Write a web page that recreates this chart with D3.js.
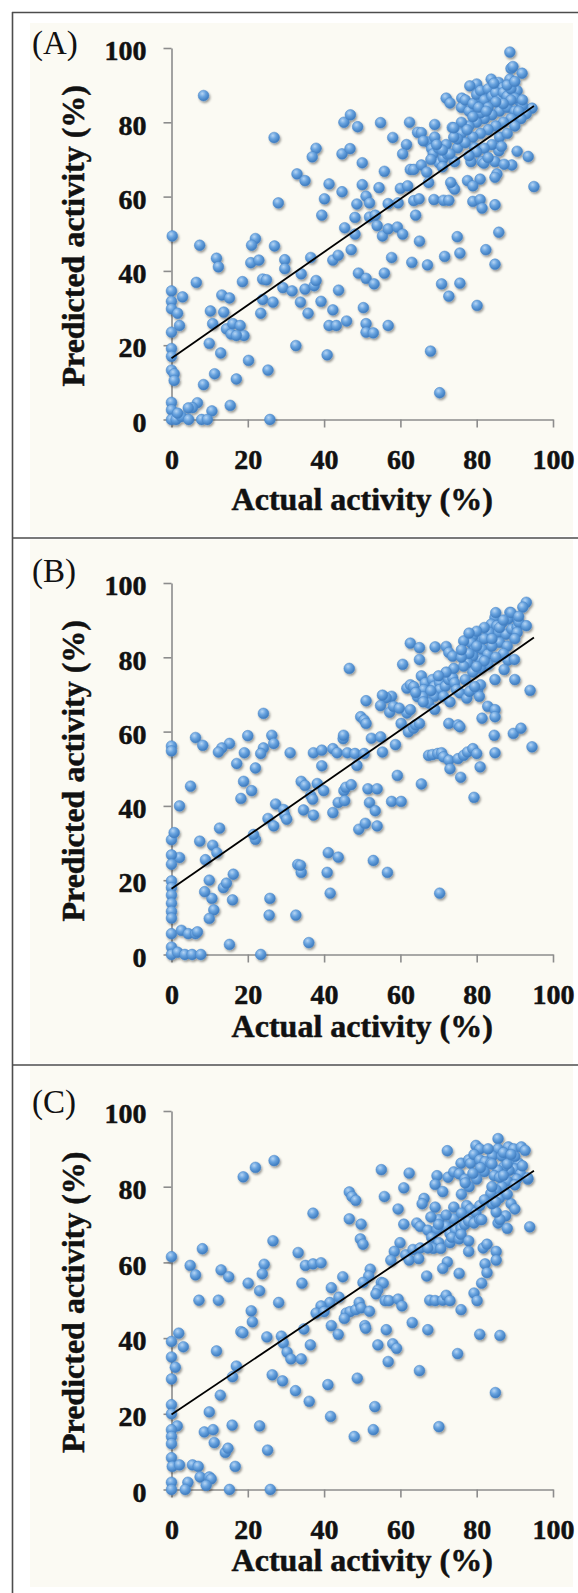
<!DOCTYPE html>
<html>
<head>
<meta charset="utf-8">
<script src="https://cdn.jsdelivr.net/npm/d3@7"></script>
<style>
  html, body { margin: 0; padding: 0; background: #fff; }
  svg { display: block; }
  .tick text { font-family: "Liberation Serif", "Times New Roman", serif; font-weight: bold; font-size: 28px; fill: #111; stroke: #111; stroke-width: 0.5px; }
</style>
</head>
<body>
<div id="chart"></div>
<script>
// axis ticks
const xTicks = [0, 20, 40, 60, 80, 100];
const yTicks = [0, 20, 40, 60, 80, 100];
const panelLabels = ["(A)", "(B)", "(C)"];
const xTitle = "Actual activity (%)";
const yTitle = "Predicted activity (%)";

// trend lines [[x0,y0],[x1,y1]]
const fitA = [[0, 16.5], [95, 84.4]];
const fitB = [[0, 17.7], [95, 85.3]];
const fitC = [[0, 19.8], [95, 84.2]];

// [actual, predicted]
const pointsA = [
  [88.7,98.9],[89,94.5],[89.5,95],[91.9,93.2],[88.7,91.6],[83.8,91.6],[80,90.3],[78.2,89.8],[85.8,90.7],[72,86.5],[73,85.2],[76.1,86.5],[8.4,87.2],
  [90.6,88.5],[91.2,85.7],[86.8,89.3],[83.8,88.9],[81.9,87.9],[80.4,86.5],[94.5,83.8],[93,82.3],[91.6,81],
  [45.2,80],[46.9,82],[48.8,78.8],[54.8,79.9],[62.4,80],[69,79.4],[58,75.9],[26.9,75.9],[61.6,74],[37.9,73],[36.9,70.7],[44.7,71.5],[46.8,72.9],[60.6,71.5],[50,69.1],[64.5,77.3],[65.5,77.2],
  [67.2,74.7],[68.2,72.9],[68.6,71.5],[70.1,69.1],[71.3,70.3],[72.3,71.4],[74.2,69.4],[75,73.1],[73.6,78.6],[93.5,70.8],[90.6,72.2],[84.8,69.4],[85.3,66.1],[84.8,65.2],[89.2,68.5],[87.2,68.7],[85.8,72.3],[81.4,69.4],[78.5,69.4],[79.5,73.1],[81.9,69],[80.9,64.7],[77.6,64.3],[79,62.9],
  [32.9,66.1],[35,64.3],[55.8,66.8],[62.6,67.3],[63.5,67.3],[65.5,68.5],[66.9,66.6],[67.4,63.8],[73.6,62.9],[74.2,62],[73.2,63.8],[95,62.7],[41.3,63.4],[44.7,61.3],[50,63.2],[54.4,62.4],[60,62.2],[61.9,62.9],
  [40.1,59.4],[28,58.3],[48.6,58],[51,60.1],[51.9,58.3],[56.8,58.1],[59.4,58.3],[63.5,58.9],[64.9,59.4],[68.8,59.2],[71.3,59],[72.7,59],[79,58.7],[80.9,59.2],[81.4,56.9],[84.8,57.8],
  [39.4,55],[48.1,54.4],[64,55],[53.9,52.2],[55.3,49.4],[56.8,51.3],[59.2,51.8],[60.6,49.9],[45.4,51.6],[48.1,49.9],[51.9,54.5],[53.4,55],[65,48],[85.8,50.4],[0.2,49.4],[7.4,46.9],[22,48.7],[21,46.9],[27,46.7],[47.1,45.7],
  [74.9,49.2],[75.6,44.8],[82.4,45.7],[84.8,41.8],[57.7,43.6],[63,42.3],[67.1,41.6],[71.6,43.9],[11.8,43.4],[12.3,41.1],[20.8,42.2],[22.9,42.9],[29.7,43],[29.7,40.6],[36.5,43.6],[42.3,42.9],[43.7,44.2],
  [49,39.4],[51,38],[53.1,36.5],[55.8,39.4],[70.8,36.5],[75.6,36.7],[72.7,33.2],[80.1,30.7],[6.5,36.9],[2.9,33],[0,34.6],[0,31.8],[18.6,37.1],[23.9,37.8],[24.9,37.6],[29.2,35.5],[31.6,34.6],[34,39.2],[35,35.1],[37.4,36],[37.9,37.4],
  [33.8,31.6],[39.2,31.8],[43.8,34.8],[13.2,33.5],[15.2,32.7],[13.7,28.9],[10.2,29.2],[0,29.8],[1.6,28.6],[23.4,28.6],[23.9,32.3],[26.6,31.6],[42.3,29.5],[35.8,28.6],[50.3,30.1],
  [10.8,25.8],[2.1,25.3],[0,23.5],[14.4,24.4],[15.6,23],[16.1,25.8],[18,25.3],[19,22.6],[17,22.6],[41.3,25.3],[43.2,25.3],[45.9,26.5],[51,25.8],[51,23.5],[52.9,23.3],[56.8,25.3],
  [9.9,20.5],[32.6,19.9],[0,19.1],[0,17],[12.9,17.9],[40.8,17.4],[67.9,18.4],[20.2,15.9],[0,13.3],[0.7,12.3],[0.7,10.5],[11.3,12.3],[17,10.9],[8.4,9.4],[25.3,13.3],[70.3,7.2],
  [0,4.6],[0,2.6],[6.8,4.5],[5.5,3.2],[4.4,3.1],[10.6,2.3],[15.4,3.8],[0,0],[1.2,0],[2.6,0.8],[4.5,0],[7.9,0],[9.4,0],[1.6,1.7],[25.8,0],
  [76,84],[77,86],[78,83],[79,85],[80,87.5],[81,88.5],[82,86],[83,89],[84,87],[85,88],[86,86],[87,88],[88,87],[89,89],[90,86.5],[86,83],[84,82],[82,81],[80,80],[78,79],[76,77],
  [88,84],[90,83],[92,84.5],[89,81],[87,80],[85,79],[83,78],[81,77],[79,76],[77,74.5],[75,75.5],[86,76],[84,74],[82,73],[80,72],[78,71],[88,77],[90,79],[86.5,73.5],[83,70.5],
  [74,76],[72,74],[70,73],[68,70],[69,76],[71,68],[73,71.5],[71,72.5],[69.5,74],[66,75],[76,80],[77.5,78],[74,78.5],[92,86],[91,83],[89,86],[87,85],[85,85.5],[83,84],[81,82.5],[79,81.5],[80.5,84],[82.5,83],[88,90],[90,91],[84.5,90.5]
];

const pointsB = [
  [93,94.8],[92.1,93.5],[88.7,92.1],[90.1,90.7],[88.2,90.3],[86.7,89.4],[84.8,90.7],[83.8,88.9],[85.3,88.5],[83.3,86.7],[85.8,86.7],[87.7,86.2],[89.2,87.6],[90.6,88.1],[91.1,89.4],[93,88.5],[90.6,86.7],
  [81.4,84.8],[79,85.7],[78.5,83.9],[76.6,84.4],[79.5,82.2],[81.4,82.2],[82.9,80.8],[80.9,79.4],[79,80.3],[77.6,78.5],[76.6,77.6],[62.6,83.8],[65,82.6],[65,79.4],[69.1,82.8],[72,82.9],[72.7,81.3],[73.7,80.3],[60.6,78.1],[46.6,77],
  [88.2,79.2],[89.9,79.4],[87.2,76.7],[90,74],[84.8,74],[94,71.1],
  [65.5,75],[66.5,73.1],[68.4,74],[68.9,72.2],[70.3,73.1],[70.3,71.3],[71.8,72.2],[72.7,74],[73.7,74.5],[74.2,73.1],[74.7,71.3],[75.6,70.4],[66.1,71.3],[68.9,69.5],[71.3,69.5],[67.4,67.7],
  [61.7,71.7],[62.6,72.6],[63.5,72.1],[64.5,69.4],[65.9,69.4],[61.7,65],[62.6,65.9],[77.4,69],[78.1,70.8],[80.3,71.3],[80.7,69.5],[81,72.6],[79.5,72.1],[82.9,66.8],[84.8,65.9],[84.8,64],[81.4,63.6],
  [57.7,69.5],[56.3,69.1],[57.2,65.2],[54.8,67],[55.3,69.8],[58.2,66.8],[51,68.3],[49.6,64],[50.5,63.1],[51,62.2],[59.7,66.3],[60.2,62.2],[62.1,59.9],[63.5,60.9],[64,61.8],[65,62.2],[72.7,62.2],[75.1,61.8],[75.6,61.3],[84.6,59],[89.6,59.5],[91.6,60.9],[94.5,55.9],
  [24.1,64.9],[26.3,59],[26.8,56.8],[20,58.9],[6.3,58.4],[8.2,56.3],[15.2,56.8],[13.2,55.6],[12.3,54.5],[19.1,54.3],[24.1,55.6],[23.4,54.1],[31.1,54.3],[37.2,54.3],[39.4,55],[42.3,55.4],[43.4,54.3],[45,58.1],[45.1,59],
  [46.1,54.3],[48.1,54.1],[50.5,54.1],[52.4,58.2],[54.8,58.6],[55.3,54.5],[39.4,50.8],[48.6,50.9],[58.7,56.5],[59.2,48.2],[65.5,45.9],
  [67.4,53.6],[68.4,53.8],[69.8,54.1],[70.8,54.3],[71.3,53.2],[72.7,52.3],[73,50],[75.1,52.7],[76.6,53.6],[77.6,54.5],[79,55.4],[80,54.1],[80.9,50.5],[84.8,54.3],[75.8,47.7],[79.3,42.3],
  [2.1,40],[0,56.1],[0,54.8],[5,45.3],[17.1,51.4],[18.9,46.6],[21,44.1],[22,50.2],[18.2,42],[34,46.6],[35,45.5],[38.2,46],[36.5,42.8],[34.6,38.9],[39.9,44.1],[37,41.8],[37.2,37.5],
  [45.2,44.1],[45.7,45],[47.1,45.7],[43.7,40.9],[45.4,41.4],[42.3,38.2],[51.5,44.6],[53.9,44.6],[51.9,40.9],[53.4,38.7],[57.7,41.2],[60.2,41.2],[49.1,33.7],[50.8,35.3],[53.9,34.6],
  [52.9,25.3],[56.6,22.1],[41.1,27.4],[43.7,26.2],[40.8,22.1],[41.6,16.5],[33.1,24.2],[34,22.1],[32.6,10.6],[36,3.2],[70.3,16.5],
  [27.3,40.5],[25.3,36.6],[26.8,34.6],[29.4,39],[29.7,37.5],[30.2,36.4],[22,31],[21.5,32.3],[12.6,34],[7.4,30.5],[10.8,29.4],[11.9,27.4],[8.9,25.5],[2.1,26.1],[0,30.9],[0,26.8],[0,24.3],[0.7,32.8],
  [13.6,18],[14.4,19.2],[16.2,21.6],[16,14.7],[9.9,20],[10.6,15.1],[11.1,12],[8.7,16.9],[9.9,9.7],[25.8,15.1],[25.6,10.6],[23.4,0],[15.2,2.7],
  [0,19.8],[0,18],[0,16],[0,13.8],[0,11.6],[0,9.8],[0,5.6],[0,2],[0,0],[2.6,6.5],[4.4,5.6],[6.3,5.6],[6.8,6.1],[1.6,0.6],[3.5,0],[5.4,0],[7.7,0],[33.8,24],
  [86,84],[84,83],[82,85],[80,83],[78,81],[76,80],[88,83],[90,85],[87,81],[85,80],[83,78],[81,77],[79,76],[77,74],[86,88],[82,88],[80,87],[78,86.5],[76,82],[74,77],
  [72,76],[70,75],[68,71],[66,68],[64,70.5],[69,66],[73,68],[87,90],[89,92],[91,91],[85,92],[84,85],[82,79],[80,77.5]
];

const pointsC = [
  [85.6,92.7],[79.8,90.9],[80.8,90],[88.3,90.5],[89.7,90],[91.7,90.5],[92.7,89.6],[85.6,90],[84.1,88.1],[86.6,88.1],
  [72.3,89.5],[75.9,86.2],[77.9,87.1],[78.4,86.2],[79.3,88.5],[80.8,87.1],[82.2,86.6],[83.7,86.2],
  [89.5,86.6],[91,86.2],[90,84.7],[88.5,84.3],[87.1,85.2],[85.6,84.3],[84.6,82.9],[91.5,83.4],[93.4,82],[90.5,82],[88,81.5],[86.6,80],[85.1,79.1],[83.7,78.2],
  [26.9,86.9],[22,85.1],[18.8,82.6],[55,84.5],[62.3,83.6],[69.6,82.9],[72.5,82.5],[74,83.9],[75.4,83.4],[76.9,82],[69.1,80.6],[71.1,78.7],[93.4,82.3],[60.9,79.7],
  [46.6,78.6],[47.3,77.4],[48.3,76.4],[55.8,77.4],[66.2,76.9],[65.7,75.5],[69.1,74.6],[74,74.6],[77.4,75],[78.3,74.1],[79.8,73.2],[80.8,75],[59.4,74.1],[37.1,73],[46.6,71.5],[49.7,70.1],
  [70.1,71.3],[60.9,70.1],[64.3,70.4],[65.2,69.5],[67.2,68.5],[72,69.5],[73,67.6],[74.5,68.5],[75.9,69],[76.9,70],[77.9,70.9],[79.3,70.4],[80.8,71.3],
  [89,75.5],[90,74.1],[87.6,72.3],[85.6,70.4],[93.9,69.4],[88,69],[86.1,71.3],[85.1,73.3],[81.3,71.3],
  [69.6,68.7],[68.2,66.6],[70.1,65.2],[68.6,63.7],[70.6,63.7],[73,65.2],[73.5,66.6],[75.4,66.2],[75.9,67.4],[77.9,65.7],[77.9,62.9],[81.7,63.8],[82.7,64.8],[82.2,59.6],[82.7,57.3],[85.1,62.9],[85.1,60.6],
  [49.5,66.2],[50.2,64.8],[59.9,65.2],[58.4,62.9],[57.5,60.6],[61.4,62],[62.3,60.6],[63.3,63.4],[65.2,63.8],[67.2,63.8],[64.8,61],
  [26.6,65.7],[8.1,63.6],[0,61.5],[33.2,62.6],[4.9,59.2],[6.3,56.7],[13,58],[15,56.2],[24.3,59.5],[23.8,57],[35.1,59.2],[37.1,59.6],[39.2,59.9],[52.1,58.2],[51.7,56.4],[50.2,54.7],[44.9,56.2],[34.2,54.5],[20.1,54.5],
  [55,54.7],[55.5,54.5],[54.1,52.7],[53.6,51.7],[66.9,56.4],[75.4,57.1],[81.3,54.5],[79.3,51.9],[80.1,49.9],[72.3,60.1],[71.1,58.4],
  [7.2,50],[12.3,50],[23.1,52.5],[20.9,47.2],[21.2,44.3],[28.1,49.4],[41.9,53.3],[43.9,50.8],[41.5,49.4],[39.2,48.5],[37.9,46.6],[40,47],[45.8,46.6],[46.8,47],[48.3,47.5],[49.2,49.4],[49.7,48],[45.3,45.2],[51.9,47.1],
  [56,49.9],[57,49.9],[59.4,50.3],[60.4,48.5],[67.7,50],[69.1,49.9],[71.1,50],[72,51.3],[73,49.9],[75.9,47.5],
  [18.2,41.7],[18.7,41.4],[25,40.3],[28.8,40.5],[29.3,38.7],[30.3,36.3],[31.3,34.5],[34.7,42.4],[36.4,38.2],[34,34.5],[41.9,43.3],[43.7,41],[50.7,43.3],[50.9,42.6],[56.3,42.2],[63.1,44.1],[67.2,42.2],
  [54.1,38.2],[58,38.5],[59,37.3],[56.8,33.8],[75,35.9],[80.8,41],[86.1,40.7],[65,31.4],
  [0,39.1],[1.9,41.3],[3.1,37.7],[11.8,36.6],[0,35],[1,32.3],[0,29.2],[17,32.6],[16,29.8],[26.4,30.3],[29.1,28.7],[32.5,26.1],[36.1,23.3],[41,27.7],[48.7,29.4],[53.3,21.9],[41.7,19.3],[52.9,15.8],[47.9,14],[70.1,16.6],[84.9,25.6],
  [12.8,24.9],[9.9,20.5],[0,22.4],[0,20],[1.5,16.8],[0,15.8],[0,14],[0,12.1],[8.6,15.2],[10.9,15.8],[15.9,17],[23.1,16.8],[11.2,12.4],[14.1,9.8],[14.8,10.9],[25.2,10.4],[16.7,6.1],
  [0,8.4],[0.2,6.1],[2.1,6.5],[5.5,6.5],[7,6.1],[7.5,3.3],[9.9,3.3],[10.4,2.8],[9.1,1.1],[4.3,1.9],[3.6,0],[0,1.9],[0,0],[15.2,0],[25.9,0],
  [82,84],[80,82],[78,80],[76,78],[84,80],[86,82.5],[88,86],[90,88],[87,89],[83,90],[81,85],[79,83.5],[77,81],[86,77],[84,75.5],[82,76.5],[88,78],[90,80.5],[92,85.5],[89,88.5],
  [74,71.5],[72,72.5],[70,70],[68,72],[76,73],[84,86],[87,83],[85,76]
];

// layout (pixels)
const W = 578, H = 1593;
const xLeft = 171.5, xRight = 553;
const panels = [
  { label: panelLabels[0], pts: pointsA, fit: fitA, top: 48,   bottom: 419.5,  labelY: 54,   titleY: 510,  bgY: 23,   bgH: 513 },
  { label: panelLabels[1], pts: pointsB, fit: fitB, top: 583,  bottom: 954.5,  labelY: 582,  titleY: 1037, bgY: 539.5, bgH: 524 },
  { label: panelLabels[2], pts: pointsC, fit: fitC, top: 1111, bottom: 1489.5, labelY: 1113, titleY: 1571, bgY: 1066, bgH: 521 }
];
const serif = '"Liberation Serif", "Times New Roman", serif';

const svg = d3.select('#chart').append('svg')
  .attr('width', W)
  .attr('height', H);

const defs = svg.append('defs');
const grad = defs.append('radialGradient')
  .attr('id', 'ball')
  .attr('cx', '38%').attr('cy', '32%').attr('r', '70%');
grad.append('stop').attr('offset', '0%').attr('stop-color', '#b6d5f4');
grad.append('stop').attr('offset', '45%').attr('stop-color', '#68a3df');
grad.append('stop').attr('offset', '100%').attr('stop-color', '#3a78bc');

const shadow = defs.append('filter')
  .attr('id', 'shadow')
  .attr('x', '-10%').attr('y', '-10%').attr('width', '120%').attr('height', '120%');
shadow.append('feDropShadow')
  .attr('dx', 1.2).attr('dy', 1.8)
  .attr('stdDeviation', 1.3)
  .attr('flood-color', '#000')
  .attr('flood-opacity', 0.4);

// panel backgrounds and frame
panels.forEach((p) => {
  svg.append('rect')
    .attr('x', 30).attr('y', p.bgY)
    .attr('width', 543).attr('height', p.bgH)
    .attr('fill', '#fbfaf3');
});

const frame = svg.append('g')
  .attr('stroke', '#4d4d4d')
  .attr('stroke-width', 1.6)
  .attr('fill', 'none');
frame.append('line').attr('x1', 12).attr('x2', W).attr('y1', 12.5).attr('y2', 12.5);
frame.append('line').attr('x1', 12.5).attr('x2', 12.5).attr('y1', 12).attr('y2', H);
frame.append('line').attr('x1', 12).attr('x2', W).attr('y1', 538).attr('y2', 538);
frame.append('line').attr('x1', 12).attr('x2', W).attr('y1', 1065).attr('y2', 1065);

function drawPanel(p) {
  let x = d3.scaleLinear().domain([0, 100]).range([xLeft, xRight]);
  let y = d3.scaleLinear().domain([0, 100]).range([p.bottom, p.top]);

  let g = svg.append('g');

  // y axis
  let yAxis = g.append('g')
    .attr('transform', `translate(${xLeft},0)`)
    .call(d3.axisLeft(y).tickValues(yTicks).tickSize(8).tickSizeOuter(0).tickPadding(17));
  yAxis.selectAll('.tick text').attr('dy', '0.42em');

  // x axis
  let xAxis = g.append('g')
    .attr('transform', `translate(0,${p.bottom})`)
    .call(d3.axisBottom(x).tickValues(xTicks).tickSize(8).tickSizeOuter(0).tickPadding(19));
  xAxis.selectAll('.tick text').attr('dy', '0.8em');

  g.selectAll('.domain, .tick line')
    .attr('stroke', '#8c8c8c')
    .attr('stroke-width', 1.6);

  // points
  g.append('g')
    .attr('filter', 'url(#shadow)')
    .selectAll('circle')
    .data(p.pts)
    .enter()
    .append('circle')
    .attr('cx', (d) => x(d[0]))
    .attr('cy', (d) => y(d[1]))
    .attr('r', 5.4)
    .attr('fill', 'url(#ball)')
    .attr('stroke', '#4a86c8')
    .attr('stroke-width', 0.5);

  // trend line
  g.append('line')
    .attr('x1', x(p.fit[0][0])).attr('y1', y(p.fit[0][1]))
    .attr('x2', x(p.fit[1][0])).attr('y2', y(p.fit[1][1]))
    .attr('stroke', '#000')
    .attr('stroke-width', 1.8);

  // panel label
  g.append('text')
    .attr('x', 32).attr('y', p.labelY)
    .attr('font-family', serif)
    .attr('font-size', 33)
    .attr('fill', '#111')
    .text(p.label);

  // axis titles
  g.append('text')
    .attr('x', (xLeft + xRight) / 2).attr('y', p.titleY)
    .attr('text-anchor', 'middle')
    .attr('font-family', serif)
    .attr('font-weight', 'bold')
    .attr('font-size', 32)
    .attr('fill', '#111')
    .attr('stroke', '#111')
    .attr('stroke-width', 0.5)
    .text(xTitle);

  g.append('text')
    .attr('transform', `translate(84,${(p.top + p.bottom) / 2 + 2}) rotate(-90)`)
    .attr('text-anchor', 'middle')
    .attr('font-family', serif)
    .attr('font-weight', 'bold')
    .attr('font-size', 32)
    .attr('fill', '#111')
    .attr('stroke', '#111')
    .attr('stroke-width', 0.5)
    .text(yTitle);
}

panels.forEach(drawPanel);
</script>
</body>
</html>
